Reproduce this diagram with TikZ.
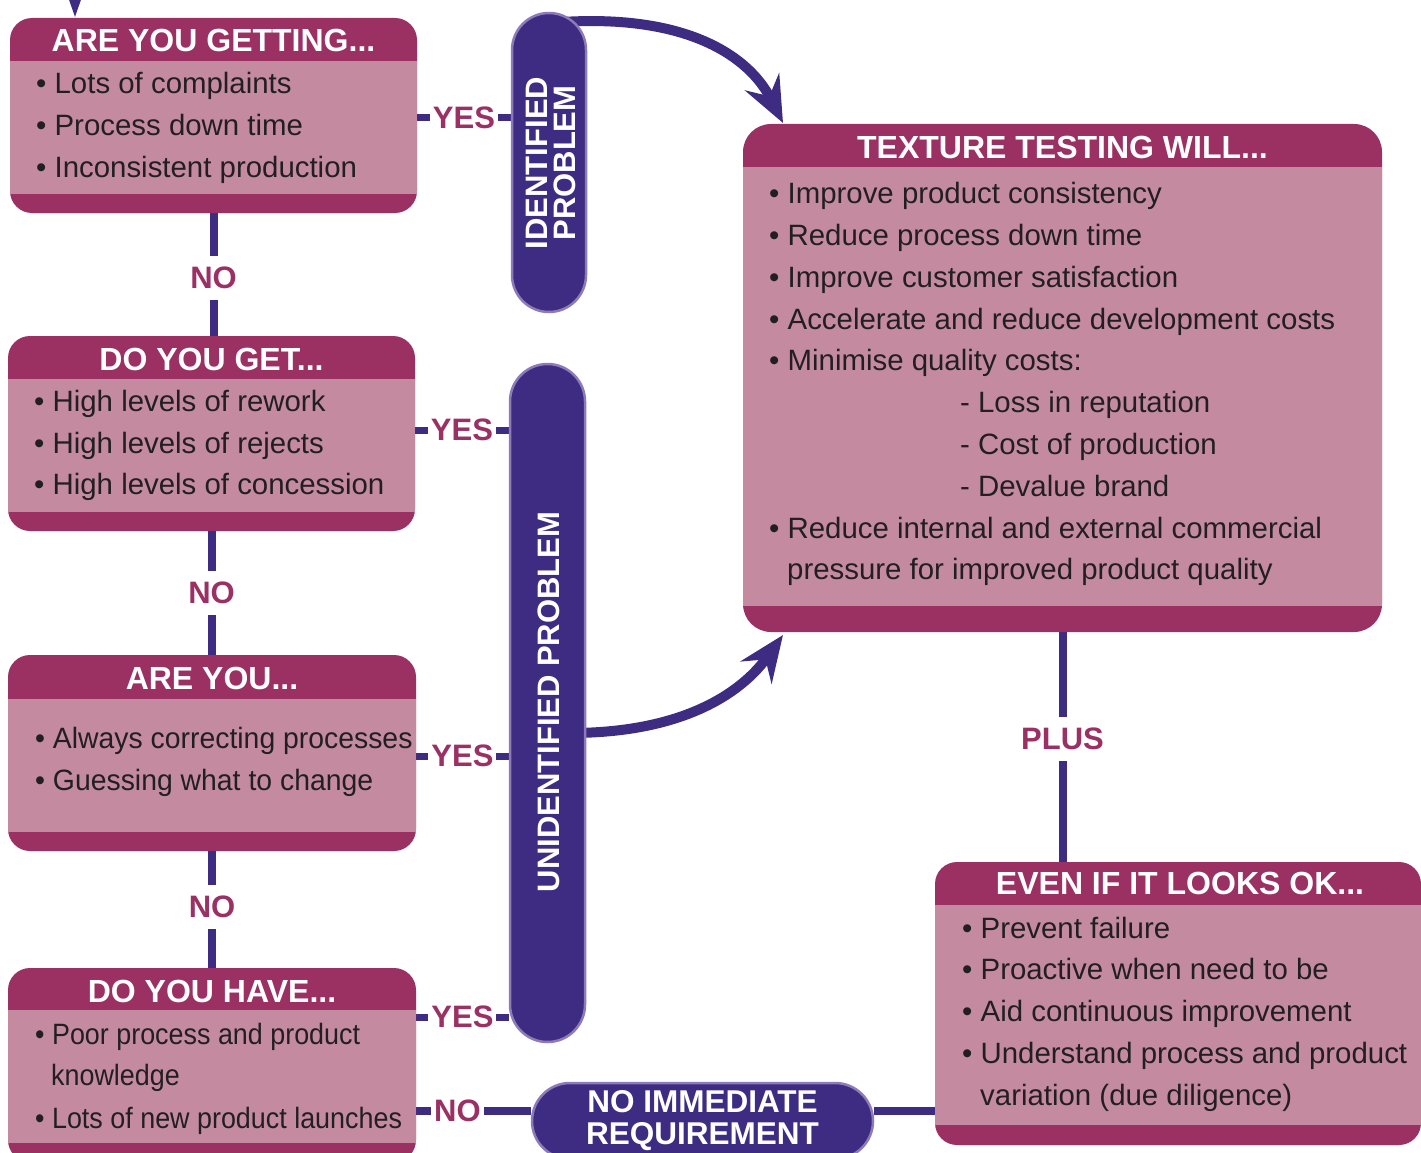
\documentclass[tikz,border=0pt]{standalone}
\usepackage{fontspec}
\setmainfont{Liberation Sans}
\newfontfamily\condA[FakeStretch=0.965]{Liberation Sans}
\newfontfamily\condB[FakeStretch=0.915]{Liberation Sans}
\usetikzlibrary{arrows.meta}
\definecolor{hdrc}{RGB}{155,48,99}
\definecolor{bodyc}{RGB}{196,139,160}
\definecolor{indc}{RGB}{62,44,130}
\definecolor{pillb}{RGB}{140,122,185}
\definecolor{lblc}{RGB}{155,48,100}
\definecolor{txtc}{RGB}{35,31,32}
\pgfdeclarelayer{bg}
\pgfsetlayers{bg,main}
\begin{document}
\begin{tikzpicture}[x=1pt,y=-1pt,
  boxbase/.style={fill=hdrc, rounded corners=22pt, inner sep=0pt, draw=none},
  hdr/.style={anchor=base, text=white, font=\bfseries\fontsize{32}{34}\selectfont, inner sep=0pt},
  itm/.style={anchor=base west, text=txtc, font=\fontsize{29.4}{34}\selectfont, inner sep=0pt},
  itmA/.style={anchor=base west, text=txtc, font=\condA\fontsize{29.4}{34}\selectfont, inner sep=0pt},
  itmB/.style={anchor=base west, text=txtc, font=\condB\fontsize{29.4}{34}\selectfont, inner sep=0pt},
  pillshape/.style={fill=indc, draw=pillb, line width=2.5pt, inner sep=0pt},
  pilltext/.style={text=white, font=\bfseries\fontsize{31}{28}\selectfont, align=center, inner sep=0pt},
  conn/.style={draw=indc, line width=7pt},
  vconn/.style={draw=indc, line width=8pt},
  hlabel/.style={fill=white, text=lblc, font=\bfseries\fontsize{31}{33}\selectfont, inner xsep=3pt, inner ysep=6pt},
  vlabel/.style={fill=white, text=lblc, font=\bfseries\fontsize{31}{33}\selectfont, inner xsep=6pt, inner ysep=11pt},
  curvearrow/.style={draw=indc, line width=10pt, -{Stealth[length=46pt,width=38pt,inset=16pt]}},
]
\useasboundingbox (0,0) rectangle (1421,1153);
\clip (0,0) rectangle (1421,1153);

% ---------- question boxes ----------
\node[boxbase, minimum width=407pt, minimum height=195pt] (q1) at (213.5,115.5) {};
\fill[bodyc] (10,61) rectangle (417,194);
\node[hdr] (q1h) at (213.5,52) {ARE YOU GETTING...};
\node[itm] (q1a) at (36,93.5) {• Lots of complaints};
\node[itm] (q1b) at (36,135.5) {• Process down time};
\node[itm] (q1c) at (36,177.5) {• Inconsistent production};

\node[boxbase, minimum width=407pt, minimum height=195pt] (q2) at (211.5,433.5) {};
\fill[bodyc] (8,379) rectangle (415,512);
\node[hdr] (q2h) at (211.5,370.5) {DO YOU GET...};
\node[itm] (q2a) at (34,411.5) {• High levels of rework};
\node[itm] (q2b) at (34,453.5) {• High levels of rejects};
\node[itm] (q2c) at (34,494.5) {• High levels of concession};

\node[boxbase, minimum width=408pt, minimum height=196pt] (q3) at (212,753) {};
\fill[bodyc] (8,699) rectangle (416,832);
\node[hdr] (q3h) at (212,689.5) {ARE YOU...};
\node[itmA] (q3a) at (35,748.5) {• Always correcting processes};
\node[itmA] (q3b) at (35,790.5) {• Guessing what to change};

\node[boxbase, minimum width=408pt, minimum height=194pt] (q4) at (212,1065) {};
\fill[bodyc] (8,1010) rectangle (416,1143);
\node[hdr] (q4h) at (212,1002.5) {DO YOU HAVE...};
\node[itmB] (q4a) at (35,1044.5) {• Poor process and product};
\node[itmB] (q4b) at (51,1085.5) {knowledge};
\node[itmB] (q4c) at (35,1128.5) {• Lots of new product launches};

% ---------- texture testing box ----------
\node[boxbase, rounded corners=28pt, minimum width=639pt, minimum height=508pt] (tt) at (1062.5,378) {};
\fill[bodyc] (743,167) rectangle (1382,606);
\node[hdr] (tth) at (1062.5,158.5) {TEXTURE TESTING WILL...};
\node[itm] (t1) at (769,203.5) {• Improve product consistency};
\node[itm] (t2) at (769,245.5) {• Reduce process down time};
\node[itm] (t3) at (769,287.5) {• Improve customer satisfaction};
\node[itm] (t4) at (769,329.5) {• Accelerate and reduce development costs};
\node[itm] (t5) at (769,370.5) {• Minimise quality costs:};
\node[itm] (t6) at (960,412.5) {- Loss in reputation};
\node[itm] (t7) at (960,454.5) {- Cost of production};
\node[itm] (t8) at (960,496.5) {- Devalue brand};
\node[itm] (t9) at (769,538.5) {• Reduce internal and external commercial};
\node[itm] (t10) at (787,579.5) {pressure for improved product quality};

% ---------- even if box ----------
\node[boxbase, minimum width=486pt, minimum height=283pt] (ev) at (1178,1003.5) {};
\fill[bodyc] (935,905) rectangle (1421,1125);
\node[hdr] (evh) at (1180,894.5) {EVEN IF IT LOOKS OK...};
\node[itm] (e1) at (962,938) {• Prevent failure};
\node[itm] (e2) at (962,979) {• Proactive when need to be};
\node[itm] (e3) at (962,1021) {• Aid continuous improvement};
\node[itm] (e4) at (962,1063) {• Understand process and product};
\node[itm] (e5) at (980,1105) {variation (due diligence)};

% ---------- pills ----------
\node[pillshape, rounded corners=37pt, minimum width=74pt, minimum height=299pt] (p1) at (549,162.5) {};
\node[pilltext, rotate=90] (p1t) at (551,163) {IDENTIFIED\\PROBLEM};
\node[pillshape, rounded corners=37.5pt, minimum width=75pt, minimum height=678pt] (p2) at (547.5,703) {};
\node[pilltext, rotate=90] (p2t) at (549,702) {UNIDENTIFIED PROBLEM};
\node[pillshape, rounded corners=38pt, minimum width=341pt, minimum height=76pt] (p3) at (702.5,1121) {};
\node[pilltext, font=\bfseries\fontsize{31.5}{32}\selectfont] (p3t) at (702.5,1121) {NO IMMEDIATE\\REQUIREMENT};

% ---------- connectors ----------
\coordinate (topin) at (75,-30);
\coordinate (y1) at (0,118);
\coordinate (y2) at (0,430);
\coordinate (y3) at (0,756);
\coordinate (y4) at (0,1017);
\coordinate (y5) at (0,1111);
\coordinate (a1s) at (562,22);
\coordinate (a1e) at (783,123);
\coordinate (a2s) at (570,733);
\coordinate (a2e) at (783,635);
\begin{pgfonlayer}{bg}
\draw[draw=indc, line width=5pt, -{Triangle[length=26pt,width=16pt]}] (topin) -- (topin |- q1.north);
\draw[vconn] (q1.south) -- (q1.south |- q2.north) node[vlabel, pos=0.53] (n1) {NO};
\draw[vconn] (q2.south) -- (q2.south |- q3.north) node[vlabel, pos=0.5] (n2) {NO};
\draw[vconn] (q3.south) -- (q3.south |- q4.north) node[vlabel, pos=0.48] (n3) {NO};
\draw[conn] (q1.east |- y1) -- (p1.west |- y1) node[hlabel, pos=0.5] (s1) {YES};
\draw[conn] (q2.east |- y2) -- (p2.west |- y2) node[hlabel, pos=0.5] (s2) {YES};
\draw[conn] (q3.east |- y3) -- (p2.west |- y3) node[hlabel, pos=0.5] (s3) {YES};
\draw[conn] (q4.east |- y4) -- (p2.west |- y4) node[hlabel, pos=0.5] (s4) {YES};
\draw[conn, line width=8pt] (q4.east |- y5) -- (p3.west |- y5) node[hlabel, pos=0.36] (n4) {NO};
\draw[conn, line width=8pt] (p3.east |- y5) -- (ev.west |- y5);
\draw[vconn] (tt.south) -- (tt.south |- ev.north) node[vlabel, pos=0.465] (pl) {PLUS};
\draw[curvearrow] (a1s) .. controls (690,14) and (750,58) .. (a1e);
\draw[curvearrow] (a2s) .. controls (690,733) and (745,688) .. (a2e);
\end{pgfonlayer}
\end{tikzpicture}
\end{document}
